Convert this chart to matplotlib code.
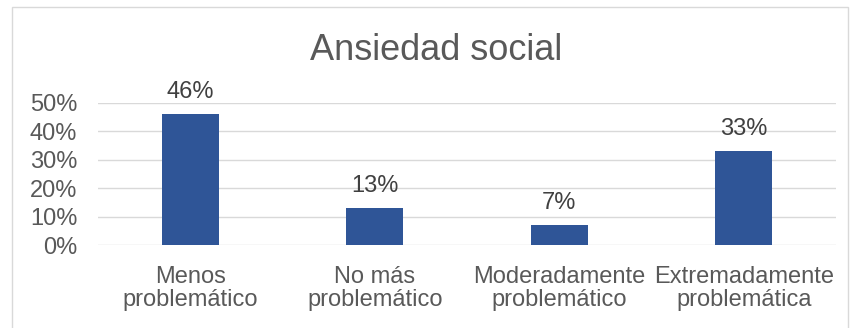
import numpy as np
import matplotlib.pyplot as plt
from matplotlib.patches import Rectangle
from matplotlib.ticker import PercentFormatter

plt.rcParams['font.family'] = ['Liberation Sans', 'DejaVu Sans']

categories = ['Menos\nproblemático', 'No más\nproblemático',
              'Moderadamente\nproblemático', 'Extremadamente\nproblemática']
values = [0.46, 0.13, 0.07, 0.33]
labels = ['46%', '13%', '7%', '33%']

text_col = '#595959'
bar_col = '#2F5597'

fig = plt.figure(figsize=(8.54, 3.28), dpi=100)
fig.patches.append(Rectangle((12/854, -0.1), 836/854, 1 - 7/328 + 0.1,
                             transform=fig.transFigure, fill=False,
                             edgecolor='#D9D9D9', linewidth=1))
ax = fig.add_axes([98/854, 83/328, 738/854, 142/328])

x = np.arange(len(categories))
bars = ax.bar(x, values, width=0.31, color=bar_col, zorder=3)
for b, lab in zip(bars, labels):
    ax.annotate(lab, (b.get_x() + b.get_width()/2, b.get_height()),
                xytext=(0, 8), textcoords='offset points',
                ha='center', va='bottom', fontsize=17, color='#404040')

ax.set_xlim(-0.5, len(categories) - 0.5)
ax.set_ylim(0, 0.5)
ax.set_yticks(np.arange(0, 0.51, 0.1))
ax.yaxis.set_major_formatter(PercentFormatter(1.0, decimals=0))
ax.set_xticks(x)
ax.set_xticklabels(categories, fontsize=17, color=text_col, linespacing=1.05)
ax.tick_params(axis='y', labelsize=17, labelcolor=text_col, length=0, pad=15)
ax.tick_params(axis='x', length=0, pad=15)
ax.grid(axis='y', color='#D9D9D9', linewidth=1, zorder=0)
for s in ax.spines.values():
    s.set_visible(False)

fig.text(436/854, 1 - 50/328, 'Ansiedad social', ha='center', va='center',
         fontsize=26, color=text_col)

fig.savefig('out.png', dpi=100)
